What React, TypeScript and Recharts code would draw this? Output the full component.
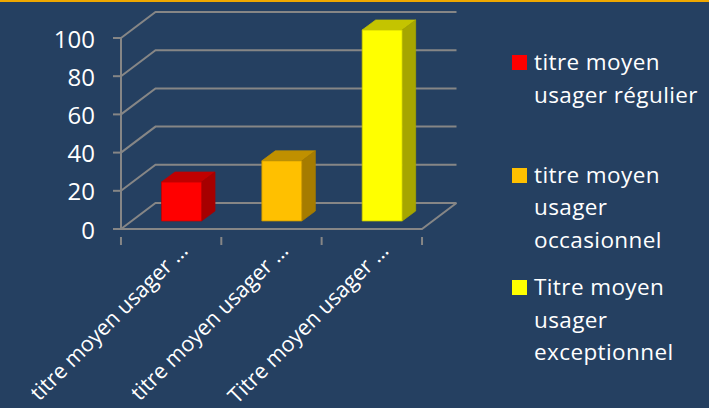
import React from 'react';
import { BarChart, Bar, XAxis, YAxis, CartesianGrid, Legend } from 'recharts';

const categories = ['titre moyen usager régulier', 'titre moyen usager occasionnel', 'Titre moyen usager exceptionnel'];
const tickLabels = ['titre moyen usager …', 'titre moyen usager …', 'Titre moyen usager …'];
const values = [20.4, 31.5, 100];
const yTicks = [0, 20, 40, 60, 80, 100];

const colors = ['#ff0000', '#ffc000', '#ffff00'];
const topColors = ['#c00000', '#c09000', '#c4c400'];
const sideColors = ['#a60000', '#a67c00', '#a6a600'];

const data = categories.map((name, i) => ({ name, value: values[i] }));

const GRID = '#868686';
const FONT = '"Open Sans", sans-serif';
// depth of the fake 3d box
const WALL_DX = 34.5;
const WALL_DY = 26;

const gridLine = (props: any) => {
  const { x1, x2, y1, index } = props;
  const bx = x1 + WALL_DX;
  const by = y1 - WALL_DY;
  return (
    <g key={`wall-${index}`} fill="none" stroke={GRID} strokeWidth={2}>
      <path d={`M${x1},${y1} L${bx},${by} L${x2 + WALL_DX},${by}`} />
      {y1 > 200 && <path d={`M${x1},${y1} L${x2},${y1} L${x2 + WALL_DX},${by}`} />}
    </g>
  );
};

const Box3d = (props: any) => {
  const { x, y, width, height, index } = props;
  const left = x + 10.5;
  const top = y - 8;
  const right = left + width;
  const bottom = top + height;
  const dx = 13.5;
  const dy = 10;
  return (
    <g strokeWidth={0.75} strokeLinejoin="round">
      <path d={`M${left},${top} L${left + dx},${top - dy} L${right + dx},${top - dy} L${right},${top} Z`} fill={topColors[index]} stroke={topColors[index]} />
      <path d={`M${right},${top} L${right + dx},${top - dy} L${right + dx},${bottom - dy} L${right},${bottom} Z`} fill={sideColors[index]} stroke={sideColors[index]} />
      <rect x={left} y={top} width={width} height={height} fill={colors[index]} stroke={topColors[index]} />
    </g>
  );
};

const CategoryTick = (props: any) => {
  const { x, y, index, payload } = props;
  const half = 50.2;
  return (
    <g>
      <line x1={x - half} y1={y} x2={x - half} y2={y + 8} stroke={GRID} strokeWidth={2} />
      {index === categories.length - 1 && <line x1={x + half} y1={y} x2={x + half} y2={y + 8} stroke={GRID} strokeWidth={2} />}
      <text
        transform={`translate(${x + 18},${y + 15}) rotate(-45)`}
        textAnchor="end"
        fill="#ffffff"
        fontSize={21.5}
        fontFamily={FONT}
      >
        {tickLabels[payload.index ?? index]}
      </text>
    </g>
  );
};

const LegendBox = () => (
  <div style={{ fontFamily: FONT, fontSize: 22.5, letterSpacing: 0.4, lineHeight: '32.5px', color: '#ffffff' }}>
    {categories.map((name, i) => (
      <div key={name} style={{ height: 112.5, display: 'flex' }}>
        <span style={{ width: 15, height: 15, marginTop: 9, marginRight: 7, flexShrink: 0, background: colors[i] }} />
        <span style={{ width: 176 }}>{name}</span>
      </div>
    ))}
  </div>
);

export default function App() {
  return (
    <div style={{ position: 'absolute', left: 0, top: 0, width: 709, height: 408, overflow: 'hidden', background: '#254061' }}>
      <div style={{ position: 'absolute', left: 0, top: 0, width: 709, height: 2, background: '#f0a800' }} />
      <BarChart width={709} height={408} data={data} margin={{ top: 38, right: 72, bottom: 0, left: 50 }}>
        <CartesianGrid horizontal={gridLine} vertical={false} stroke={GRID} />
        <XAxis dataKey="name" interval={0} height={179} axisLine={false} tickLine={false} tick={<CategoryTick />} />
        <YAxis
          domain={[0, 100]}
          ticks={yTicks}
          width={71}
          tickSize={8}
          tickMargin={18}
          interval={0}
          axisLine={{ stroke: GRID, strokeWidth: 2 }}
          tickLine={{ stroke: GRID, strokeWidth: 2 }}
          tick={{ fill: '#ffffff', fontSize: 24, fontFamily: FONT, dy: 1 }}
        />
        <Bar dataKey="value" barSize={40} shape={<Box3d />} isAnimationActive={false} />
        <Legend
          layout="vertical"
          align="right"
          verticalAlign="top"
          width={215}
          content={<LegendBox />}
          wrapperStyle={{ left: 512, top: 46, right: 'auto', bottom: 'auto' }}
        />
      </BarChart>
    </div>
  );
}
